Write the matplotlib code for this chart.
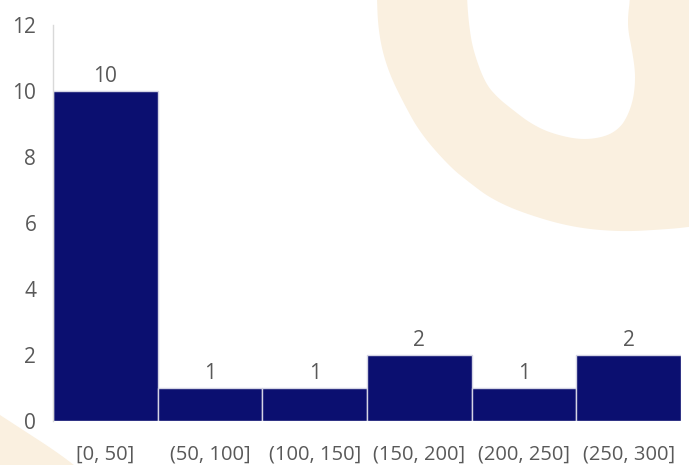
import numpy as np
import matplotlib
matplotlib.use('Agg')
import matplotlib.pyplot as plt
from matplotlib.patches import Polygon

# 구간별 빈도
bins = ['[0, 50]', '(50, 100]', '(100, 150]', '(150, 200]', '(200, 250]', '(250, 300]']
counts = [10, 1, 1, 2, 1, 2]

W, H = 689, 465
bar_color = '#0b0f70'
text_color = '#595959'
deco_color = '#faf0e0'

plt.rcParams['font.family'] = ['Open Sans', 'DejaVu Sans']

fig = plt.figure(figsize=(W / 100, H / 100), dpi=100)


def smooth(pts, n=4):
    # 모서리 깎기(Chaikin)로 윤곽을 부드럽게
    p = np.asarray(pts, dtype=float)
    for _ in range(n):
        q = np.roll(p, -1, axis=0)
        p = np.column_stack([0.75 * p + 0.25 * q, 0.25 * p + 0.75 * q]).reshape(-1, 2)
    return p


def to_fig(pts):
    # 픽셀 좌표(왼쪽 위 기준) -> figure 좌표
    p = np.asarray(pts, dtype=float)
    return np.column_stack([p[:, 0] / W, 1 - p[:, 1] / H])


# 배경 장식 (고리 모양 + 왼쪽 아래 삼각형)
ring_outer = [(376, -40), (377, 0), (378, 25), (382, 50), (390, 75), (402, 100),
              (420, 133), (450, 167), (470, 183), (490, 198), (520, 212),
              (570, 227), (620, 232), (670, 229), (689, 227), (740, 220),
              (740, -40)]
ring_hole = [(466, -40), (467, 0), (469, 25), (473, 50), (485, 83), (498, 98),
             (513, 110), (530, 123), (550, 133), (580, 140), (605, 137),
             (620, 128), (628, 115), (633, 100), (635, 85), (635, 70),
             (632, 50), (628, 30), (628, 15), (630, 0), (631, -40)]
wedge = [(-40, 389), (0, 415), (77, 465), (110, 500), (-40, 500)]

for pts, fc in [(ring_outer, deco_color), (ring_hole, 'white'), (wedge, deco_color)]:
    fig.patches.append(Polygon(to_fig(smooth(pts)), closed=True, transform=fig.transFigure,
                               facecolor=fc, edgecolor='none', zorder=0))

ax = fig.add_axes([53 / W, (H - 421) / H, (681 - 53) / W, (421 - 25) / H])
ax.patch.set_alpha(0)

x = np.arange(len(bins))
ax.bar(x, counts, width=1.0, color=bar_color, edgecolor='#d4d4e4', linewidth=1)

for xi, c in zip(x, counts):
    ax.annotate(str(c), (xi, c), xytext=(0, 3), textcoords='offset points',
                ha='center', va='bottom', fontsize=15, color=text_color)

ax.set_xlim(-0.5, len(bins) - 0.5)
ax.set_ylim(0, 12)
ax.set_yticks(range(0, 13, 2))
ax.set_xticks(x)
ax.set_xticklabels(bins)

ax.tick_params(axis='y', length=0, pad=12, labelsize=15, labelcolor=text_color)
ax.tick_params(axis='x', length=0, pad=17, labelsize=14.5, labelcolor=text_color)

for s in ['top', 'right', 'bottom']:
    ax.spines[s].set_visible(False)
ax.spines['left'].set_color('#d9d9d9')
ax.spines['left'].set_linewidth(1)

fig.savefig('out.png', dpi=100)
